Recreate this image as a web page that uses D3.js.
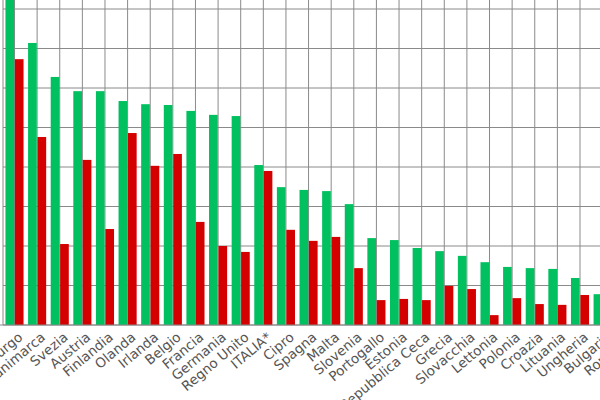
<!DOCTYPE html>
<html>
<head>
<meta charset="utf-8">
<script src="https://cdn.jsdelivr.net/npm/d3@7"></script>
<style>
  body { margin: 0; background: #fff; }
</style>
</head>
<body>
<svg id="chart" width="600" height="400"></svg>
<script>
var countries = ["Lussemburgo", "Danimarca", "Svezia", "Austria", "Finlandia", "Olanda", "Irlanda",
    "Belgio", "Francia", "Germania", "Regno Unito", "ITALIA*", "Cipro", "Spagna", "Malta", "Slovenia",
    "Portogallo", "Estonia", "Repubblica Ceca", "Grecia", "Slovacchia", "Lettonia", "Polonia",
    "Croazia", "Lituania", "Ungheria", "Bulgaria", "Romania"];
var greenValues = [85, 71.4, 62.8, 59.2, 59.2, 56.7, 55.9, 55.7, 54.2, 53.2, 52.9, 40.5, 34.9, 34.2,
    33.9, 30.6, 22.0, 21.5, 19.5, 18.7, 17.5, 15.9, 14.7, 14.4, 14.2, 11.9, 7.8, 6.0];
var redValues = [67.3, 47.6, 20.5, 41.8, 24.3, 48.6, 40.3, 43.3, 26.1, 20.0, 18.5, 39.0, 24.1, 21.3,
    22.3, 14.4, 6.3, 6.6, 6.3, 9.9, 9.1, 2.5, 6.8, 5.3, 5.1, 7.6, 4.0, 3.0];
var yTicks = [0, 10, 20, 30, 40, 50, 60, 70, 80];

var svg = d3.select("#chart");
var baseline = 325, pitch = 22.62, firstCenter = 14.5;

var x = d3.scaleBand()
    .domain(countries)
    .range([firstCenter - pitch / 2, firstCenter - pitch / 2 + pitch * countries.length])
    .paddingInner(0.2).paddingOuter(0.1);
var inner = d3.scaleBand().domain(["g", "r"]).range([0, x.bandwidth()]).paddingInner(0.08);
var y = d3.scaleLinear().domain([0, 80]).range([baseline, baseline - 316]);

var grid = svg.append("g");
grid.selectAll("line.h").data(yTicks).enter().append("line")
    .attr("x1", 3).attr("x2", 600)
    .attr("y1", function(d){ return y(d); }).attr("y2", function(d){ return y(d); })
    .attr("stroke", "#8a8a8a").attr("stroke-width", 1);
grid.selectAll("line.v").data(countries).enter().append("line")
    .attr("x1", function(d){ return x(d) + x.bandwidth() / 2; })
    .attr("x2", function(d){ return x(d) + x.bandwidth() / 2; })
    .attr("y1", 0).attr("y2", baseline)
    .attr("stroke", "#8a8a8a").attr("stroke-width", 1);
grid.append("line").attr("x1", 3).attr("x2", 3).attr("y1", 0).attr("y2", baseline)
    .attr("stroke", "#8a8a8a");

var groups = svg.append("g").selectAll("g").data(countries).enter().append("g")
    .attr("transform", function(d){ return "translate(" + x(d) + ",0)"; });
groups.append("rect")
    .attr("x", inner("g")).attr("width", inner.bandwidth())
    .attr("y", function(d, i){ return y(greenValues[i]); })
    .attr("height", function(d, i){ return baseline - y(greenValues[i]); })
    .attr("fill", "#00c060");
groups.append("rect")
    .attr("x", inner("r")).attr("width", inner.bandwidth())
    .attr("y", function(d, i){ return y(redValues[i]); })
    .attr("height", function(d, i){ return baseline - y(redValues[i]); })
    .attr("fill", "#d40000");

svg.append("line").attr("x1", 0).attr("x2", 600).attr("y1", baseline).attr("y2", baseline)
    .attr("stroke", "#8a8a8a");

svg.append("g").selectAll("text").data(countries).enter().append("text")
    .attr("transform", function(d){
        return "translate(" + (x(d) + x.bandwidth() / 2 + 6) + "," + (baseline + 10) + ") rotate(-40)";
    })
    .attr("text-anchor", "end")
    .attr("dy", "0.35em")
    .style("font-family", "DejaVu Sans, Verdana, sans-serif")
    .style("font-size", "13.5px")
    .attr("fill", "#555")
    .text(function(d){ return d; });
</script>
</body>
</html>
